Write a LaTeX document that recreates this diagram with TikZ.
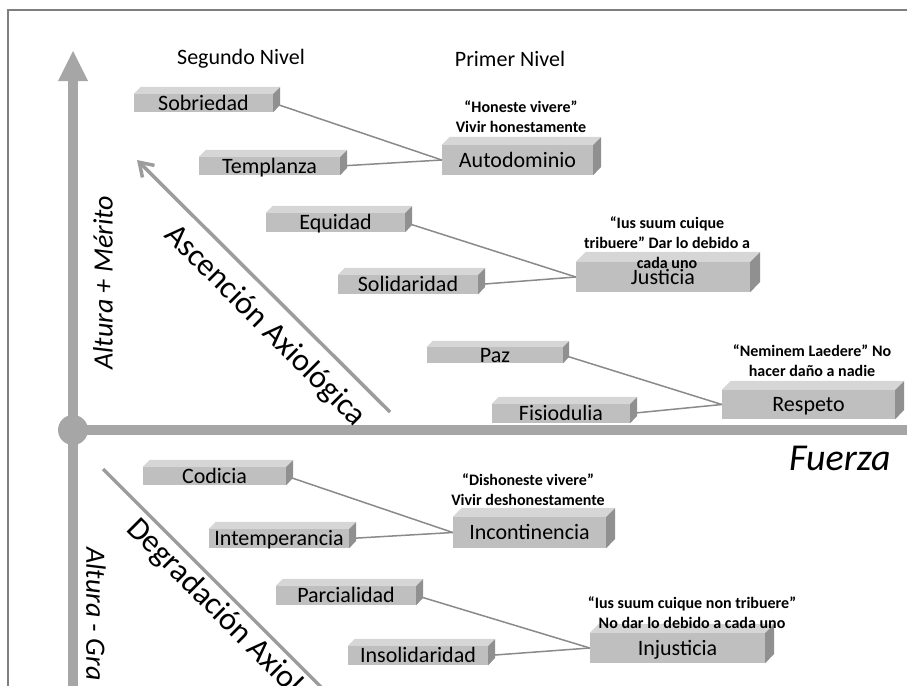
\documentclass[tikz,border=0pt]{standalone}
\usepackage{fontspec}
\setmainfont{Carlito}
\usetikzlibrary{arrows.meta,calc}
\definecolor{axisgray}{HTML}{A6A6A6}
\definecolor{diaggray}{HTML}{9C9C9C}
\definecolor{conngray}{HTML}{8A8A8A}
\definecolor{framegray}{HTML}{7F7F7F}
\definecolor{frontc}{HTML}{BFBFBF}
\definecolor{topc}{HTML}{D6D6D6}
\definecolor{sidec}{HTML}{909090}
\pgfdeclarelayer{bg}
\pgfsetlayers{bg,main}
\newcommand\cubebox[8]{%
  \pgfmathsetmacro\cbw{#4-#2}%
  \pgfmathsetmacro\cbh{#5-#3}%
  \pgfmathsetmacro\cbx{(#2+#4)/2}%
  \pgfmathsetmacro\cby{(#3+#5)/2}%
  \node[frontbox, font=#7, minimum width=\cbw pt, minimum height=\cbh pt] (#1) at (\cbx,\cby) {#8};
  \fill[topc] (#1.north west) -- ++(#6,-#6) -- ++(\cbw,0) -- (#1.north east) -- cycle;
  \fill[sidec] (#1.north east) -- ++(#6,-#6) -- ++(0,\cbh) -- (#1.south east) -- cycle;
}
\tikzset{
  frontbox/.style={fill=frontc, inner sep=0pt, text height=15pt, text depth=1pt},
  axisline/.style={draw=axisgray, line width=10pt},
  diagline/.style={draw=diaggray, line width=3.5pt},
  conn/.style={draw=conngray, line width=1.5pt},
  quote/.style={align=center, font=\bfseries\fontsize{16}{20}\selectfont, inner sep=0pt},
  levelhead/.style={font=\fontsize{22}{26}\selectfont, inner sep=0pt},
}
\newcommand\sfnt{\fontsize{22}{26}\selectfont}
\begin{document}
\begin{tikzpicture}[x=1pt,y=-1pt]
\useasboundingbox (0,0) rectangle (907,685);
\clip (0,0) rectangle (907,685);
% frame
\coordinate (f1) at (8,690);
\coordinate (f2) at (8,10);
\coordinate (f3) at (912,10);
\draw[framegray, line width=2pt] (f1) -- (f2) -- (f3);
% axes
\coordinate (vbot) at (73,690);
\coordinate (vtop) at (73,78);
\coordinate (origin) at (73,430);
\coordinate (hend) at (912,430);
\draw[axisline] (vbot) -- (vtop);
\fill[axisgray] (58,81) -- (88,81) -- (73,51) -- cycle;
\draw[axisline] (origin) -- (hend);
\fill[axisgray] (origin) circle (15);
% diagonals
\coordinate (dA1) at (390,412);
\coordinate (dA2) at (137,160);
\draw[diagline, -{Straight Barb[length=13pt,width=17pt]}] (dA1) -- (dA2);
\coordinate (dB1) at (103,469);
\coordinate (dB2) at (330,696);
\draw[diagline] (dB1) -- (dB2);
% axis labels
\node[rotate=-45, font=\fontsize{32}{36}\selectfont, inner sep=0pt] (asc) at (265,326) {Ascención Axiológica};
\node[rotate=-45, font=\fontsize{32}{36}\selectfont, inner sep=0pt] (deg) at (238,631) {Degradación Axiológica};
\node[rotate=90, font=\itshape\fontsize{28}{32}\selectfont, inner sep=0pt] (alt1) at (103,283) {Altura + Mérito};
\node[rotate=-90, anchor=west, font=\itshape\fontsize{28}{32}\selectfont, inner sep=0pt] (alt2) at (96,547) {Altura - Gra};
\node[font=\itshape\fontsize{38}{42}\selectfont, inner sep=0pt] (fuerza) at (840,458) {Fuerza};
\node[levelhead] (seg) at (241,59) {Segundo Nivel};
\node[levelhead] (pri) at (510,59) {Primer Nivel};
% boxes
\cubebox{sob}{134}{94}{273}{112}{7}{\sfnt}{Sobriedad}
\cubebox{tem}{199}{157}{340}{175}{7}{\sfnt}{Templanza}
\cubebox{equ}{266}{213}{405}{232}{7}{\sfnt}{Equidad}
\cubebox{sol}{338}{275}{478}{294}{7}{\sfnt}{Solidaridad}
\cubebox{paz}{427}{347}{563}{363}{6}{\sfnt}{Paz}
\cubebox{fis}{492}{404}{630}{423}{7}{\sfnt}{Fisiodulia}
\cubebox{cod}{143}{467}{286}{485}{7}{\sfnt}{Codicia}
\cubebox{itm}{209}{529}{349}{548}{7}{\sfnt}{Intemperancia}
\cubebox{par}{276}{586}{416}{605}{7}{\sfnt}{Parcialidad}
\cubebox{ins}{348}{646}{488}{665}{7}{\sfnt}{Insolidaridad}
\cubebox{aut}{442}{145}{593}{175}{8}{\sfnt}{Autodominio}
\cubebox{jus}{576}{262}{750}{292}{10}{\sfnt}{Justicia}
\cubebox{res}{722}{390}{895}{419}{9}{\sfnt}{Respeto}
\cubebox{inc}{453}{517}{606}{548}{9}{\sfnt}{Incontinencia}
\cubebox{inj}{590}{633}{765}{663}{9}{\sfnt}{Injusticia}
% connectors
\begin{pgfonlayer}{bg}
\draw[conn] (sob.east) -- (aut.west);
\draw[conn] (tem.east) -- (aut.west);
\draw[conn] (equ.east) -- (jus.west);
\draw[conn] (sol.east) -- (jus.west);
\draw[conn] (paz.east) -- (res.west);
\draw[conn] (fis.east) -- (res.west);
\draw[conn] (cod.east) -- (inc.west);
\draw[conn] (itm.east) -- (inc.west);
\draw[conn] (par.east) -- (inj.west);
\draw[conn] (ins.east) -- (inj.west);
\end{pgfonlayer}
% quotes
\node[quote] (qaut) at (521,117) {“Honeste vivere”\\Vivir honestamente};
\node[quote] (qjus) at (667,243) {“Ius suum cuique\\tribuere” Dar lo debido a\\cada uno};
\node[quote] (qres) at (812,361) {“Neminem Laedere” No\\hacer daño a nadie};
\node[quote] (qinc) at (528,490) {“Dishoneste vivere”\\Vivir deshonestamente};
\node[quote] (qinj) at (692,613) {“Ius suum cuique non tribuere”\\No dar lo debido a cada uno};
\end{tikzpicture}
\end{document}
